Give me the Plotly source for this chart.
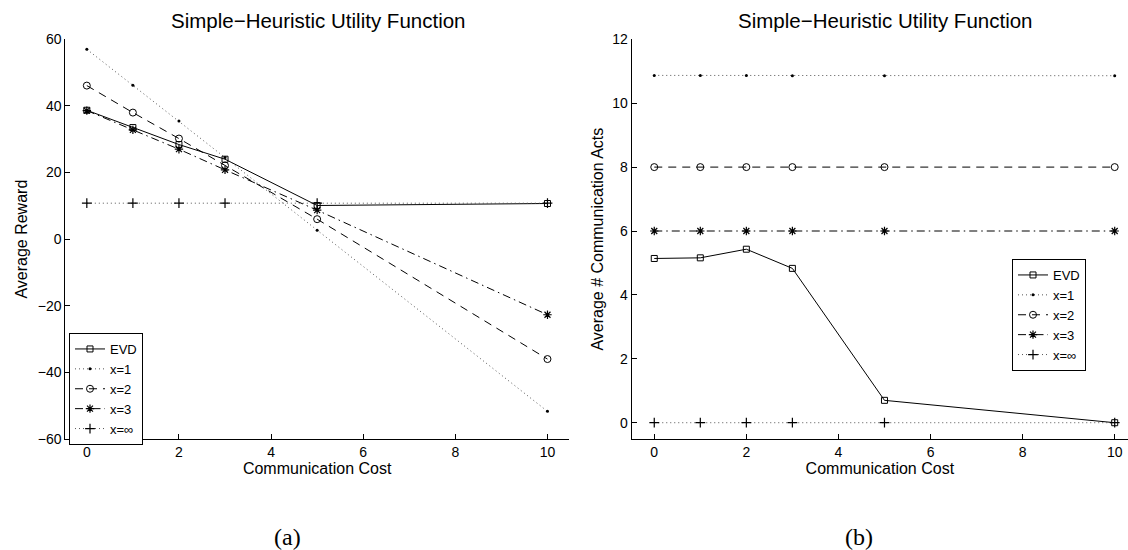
import plotly.graph_objects as go

cost = [0, 1, 2, 3, 5, 10]

# Panel (a): Average Reward
reward_evd = [38.7, 33.5, 28.4, 24.0, 10.1, 10.7]
reward_x1 = [57.0, 46.2, 35.5, 24.5, 2.7, -51.7]
reward_x2 = [46.1, 38.0, 30.2, 22.1, 6.0, -36.0]
reward_x3 = [38.6, 32.8, 27.0, 20.8, 8.7, -22.7]
reward_xinf = [10.8, 10.8, 10.8, 10.8, 10.8, 10.8]

# Panel (b): Average # Communication Acts
acts_evd = [5.14, 5.16, 5.43, 4.83, 0.70, 0.0]
acts_x1 = [10.87, 10.87, 10.87, 10.86, 10.86, 10.86]
acts_x2 = [8.0, 8.0, 8.0, 8.0, 8.0, 8.0]
acts_x3 = [6.0, 6.0, 6.0, 6.0, 6.0, 6.0]
acts_xinf = [0.0, 0.0, 0.0, 0.0, 0.0, 0.0]

names = ["EVD", "x=1", "x=2", "x=3", "x=\u221e"]
xticks = [0, 2, 4, 6, 8, 10]
yticks_a = [-60, -40, -20, 0, 20, 40, 60]
yticks_b = [0, 2, 4, 6, 8, 10, 12]

FONT = "Liberation Sans, Arial, Helvetica, sans-serif"
SERIF = "Liberation Serif, Times New Roman, serif"

styles = [
    dict(line=dict(color="black", width=1, dash="solid"),
         marker=dict(symbol="square-open", size=6, color="black", line=dict(width=1, color="black"))),
    dict(line=dict(color="#555555", width=1, dash="1px,3px"),
         marker=dict(symbol="circle", size=3, color="black")),
    dict(line=dict(color="black", width=1, dash="8px,6px"),
         marker=dict(symbol="circle-open", size=7, color="black", line=dict(width=1, color="black"))),
    dict(line=dict(color="black", width=1, dash="8px,4px,1.5px,4px"),
         marker=dict(symbol="asterisk-open", size=7, color="black", line=dict(width=1.2, color="black"))),
    dict(line=dict(color="#555555", width=1, dash="1px,3px"),
         marker=dict(symbol="cross-thin-open", size=7, color="black", line=dict(width=1.2, color="black"))),
]

fig = go.Figure()
for series, name, st in zip([reward_evd, reward_x1, reward_x2, reward_x3, reward_xinf], names, styles):
    fig.add_trace(go.Scatter(x=cost, y=series, name=name, mode="lines+markers",
                             line=st["line"], marker=st["marker"], cliponaxis=False,
                             xaxis="x", yaxis="y", legend="legend"))
for series, name, st in zip([acts_evd, acts_x1, acts_x2, acts_x3, acts_xinf], names, styles):
    fig.add_trace(go.Scatter(x=cost, y=series, name=name, mode="lines+markers",
                             line=st["line"], marker=st["marker"], cliponaxis=False,
                             xaxis="x2", yaxis="y2", legend="legend2"))

W, H = 1128, 550
def fx(px):
    return px / W
def fy(py):
    return 1 - py / H

axis_common = dict(showline=True, linecolor="black", linewidth=1, mirror=False,
                   ticks="inside", ticklen=5, tickcolor="black", showgrid=False,
                   zeroline=False, tickfont=dict(family=FONT, size=14, color="black"),
                   automargin=False)

# left panel: x=0 at 86.8px, 46.07 px per unit
left_x0, left_x1 = 65.4, 568.9
# right panel: x=0 at 654.2px, 46.05 px per unit; right end is cut by figure edge
right_x0 = 631.7
right_range_hi = (1128 - 654.2) / 46.05

fig.update_layout(
    width=W, height=H,
    margin=dict(l=0, r=0, t=0, b=0),
    paper_bgcolor="white", plot_bgcolor="white",
    font=dict(family=FONT, color="black"),
    xaxis=dict(domain=[fx(left_x0), fx(left_x1)], range=[-0.465, 10.465], tickvals=xticks, anchor="y",
               title=dict(text="Communication Cost", font=dict(size=16), standoff=2), **axis_common),
    yaxis=dict(domain=[fy(439), fy(39.3)], range=[-60, 60], tickvals=yticks_a, anchor="x",
               title=dict(text="Average Reward", font=dict(size=16), standoff=6), **axis_common),
    xaxis2=dict(domain=[fx(right_x0), 1.0], range=[-0.49, right_range_hi], tickvals=xticks, anchor="y2",
                title=dict(text="Communication Cost", font=dict(size=16), standoff=2), **axis_common),
    yaxis2=dict(domain=[fy(439), fy(39.3)], range=[-0.51, 12], tickvals=yticks_b, anchor="x2",
                title=dict(text="Average # Communication Acts", font=dict(size=16), standoff=4), **axis_common),
    legend=dict(x=fx(69), y=fy(333), xanchor="left", yanchor="top",
                bgcolor="white", bordercolor="black", borderwidth=1,
                font=dict(family=FONT, size=13, color="black"), itemwidth=30, tracegroupgap=0),
    legend2=dict(x=fx(1012), y=fy(259), xanchor="left", yanchor="top",
                 bgcolor="white", bordercolor="black", borderwidth=1,
                 font=dict(family=FONT, size=13, color="black"), itemwidth=30, tracegroupgap=0),
    showlegend=True,
    annotations=[
        dict(text="Simple\u2212Heuristic Utility Function", x=fx(318), y=fy(20), xref="paper", yref="paper",
             showarrow=False, font=dict(family=FONT, size=20.5, color="black"), xanchor="center", yanchor="middle"),
        dict(text="Simple\u2212Heuristic Utility Function", x=fx(885), y=fy(20), xref="paper", yref="paper",
             showarrow=False, font=dict(family=FONT, size=20.5, color="black"), xanchor="center", yanchor="middle"),
        dict(text="(a)", x=fx(287), y=fy(537), xref="paper", yref="paper", showarrow=False,
             font=dict(family=SERIF, size=24, color="black"), xanchor="center", yanchor="middle"),
        dict(text="(b)", x=fx(859), y=fy(537), xref="paper", yref="paper", showarrow=False,
             font=dict(family=SERIF, size=24, color="black"), xanchor="center", yanchor="middle"),
    ],
)

fig.write_html("out.html")
